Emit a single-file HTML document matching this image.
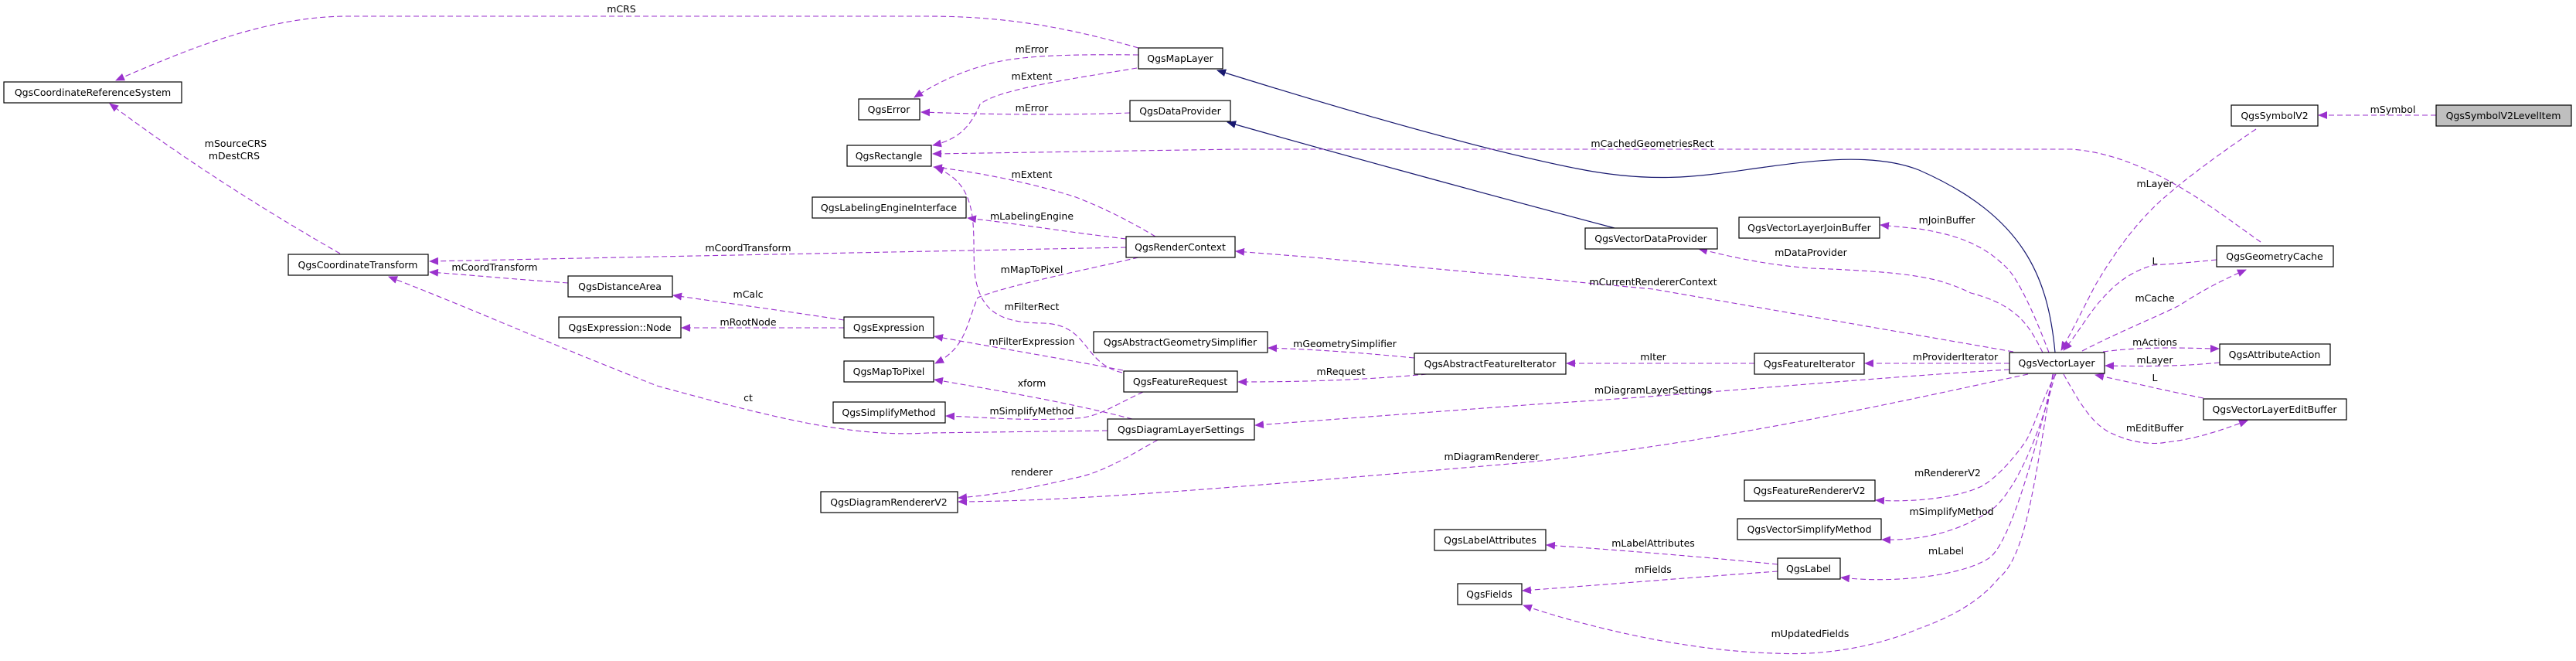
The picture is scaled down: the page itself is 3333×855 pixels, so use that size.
<!DOCTYPE html>
<html><head><meta charset="utf-8">
<style>
html,body{margin:0;padding:0;background:#fff;}
svg{display:block;}
text{font-family:"DejaVu Sans","Liberation Sans",sans-serif;font-size:12.5px;fill:#000;}
.n{fill:#fff;stroke:#000;stroke-width:1.2;}
.e{fill:none;stroke:#9a32cd;stroke-width:1.1;stroke-dasharray:7,4;marker-end:url(#ap);}
.i{fill:none;stroke:#191970;stroke-width:1.2;marker-end:url(#an);}
</style></head><body>
<svg width="3333" height="855" viewBox="0 0 3333 855" xmlns="http://www.w3.org/2000/svg">
<defs>
<marker id="ap" markerWidth="12" markerHeight="10" refX="11" refY="5" orient="auto" markerUnits="userSpaceOnUse"><path d="M0,0 L12,5 L0,10 z" fill="#9a32cd"/></marker>
<marker id="an" markerWidth="12" markerHeight="10" refX="11" refY="5" orient="auto" markerUnits="userSpaceOnUse"><path d="M0,0 L12,5 L0,10 z" fill="#191970"/></marker>
</defs>

<!-- edges -->
<path class="e" d="M1473,62 C1380,35 1300,21 1200,21 L450,21 C350,21 250,60 150,104"/>
<path class="e" d="M1473,71 C1380,70 1330,72 1290,80 C1250,90 1215,105 1183,126"/>
<path class="e" d="M1471,88 C1400,100 1290,115 1268,135 C1255,165 1240,180 1207,188"/>
<path class="e" d="M1462,146 C1350,150 1250,147 1192,145"/>
<path class="i" d="M2089,295 C1900,245 1700,190 1588,158"/>
<path class="i" d="M2659,456 C2650,360 2620,280 2483,220 C2420,195 2330,210 2270,218 C2200,228 2140,238 2040,218 C1900,190 1700,130 1575,91"/>
<path class="e" d="M2925,313 C2870,275 2780,200 2680,193 L1600,193 L1207,199"/>
<path class="e" d="M1495,306 C1460,285 1430,270 1392,255 C1330,235 1260,222 1208,216"/>
<path class="e" d="M1457,309 C1380,300 1320,290 1252,282"/>
<path class="e" d="M1457,320 L850,332 L556,338"/>
<path class="e" d="M735,366 C650,360 600,355 556,352"/>
<path class="e" d="M440,328 C330,265 230,200 142,134"/>
<path class="e" d="M1433,557 L1200,560 C1100,566 1000,540 850,499 C700,440 600,395 503,358"/>
<path class="e" d="M1473,333 C1400,350 1300,370 1265,385 C1250,420 1250,450 1210,470"/>
<path class="e" d="M1452,482 C1400,470 1410,420 1350,418 C1290,418 1270,400 1262,360 C1255,310 1275,240 1210,217"/>
<path class="e" d="M1092,414 C1000,400 940,392 871,382"/>
<path class="e" d="M1092,424 L882,424"/>
<path class="e" d="M1453,479 C1380,465 1280,448 1209,435"/>
<path class="e" d="M1465,542 C1380,520 1290,505 1209,491"/>
<path class="e" d="M1479,507 C1440,525 1420,540 1392,541 C1330,545 1280,540 1224,538"/>
<path class="e" d="M1498,569 C1460,590 1430,610 1392,618 C1330,632 1290,640 1240,644"/>
<path class="e" d="M2624,484 C2500,510 2200,580 1930,602 C1600,630 1400,648 1240,649"/>
<path class="e" d="M2600,478 C2400,490 2200,510 2000,522 L1624,550"/>
<path class="e" d="M2605,455 L2139,374 L1700,333 L1599,325"/>
<path class="e" d="M2643,456 C2625,420 2610,395 2550,379 C2510,360 2480,352 2343,347 C2280,342 2240,332 2198,322"/>
<path class="e" d="M2651,456 C2630,400 2610,360 2597,347 C2570,320 2540,305 2483,296 L2433,291"/>
<path class="e" d="M2600,470 L2413,470"/>
<path class="e" d="M2270,470 L2027,470"/>
<path class="e" d="M1830,463 C1760,456 1700,452 1641,450"/>
<path class="e" d="M1846,484 C1760,492 1680,494 1602,494"/>
<path class="e" d="M2660,484 C2640,520 2630,560 2618,575 C2600,600 2580,620 2564,629 C2530,645 2470,650 2427,647"/>
<path class="e" d="M2659,484 C2640,560 2610,630 2581,656 C2550,680 2500,700 2435,698"/>
<path class="e" d="M2657,484 C2630,600 2600,700 2575,721 C2540,745 2450,755 2382,747"/>
<path class="e" d="M2656,484 C2630,640 2620,720 2586,748 C2560,780 2520,800 2483,813 C2420,840 2350,848 2296,845 C2180,842 2050,810 1971,783"/>
<path class="e" d="M2300,730 C2200,720 2100,712 2001,705"/>
<path class="e" d="M2300,739 C2200,746 2080,756 1970,764"/>
<path class="e" d="M2919,167 C2870,200 2830,230 2808,249 C2770,280 2740,320 2711,369 C2695,400 2680,430 2667,453"/>
<path class="e" d="M2868,336 C2830,340 2800,342 2786,343 C2760,350 2740,365 2727,379 C2705,400 2690,430 2670,453"/>
<path class="e" d="M2694,454 C2740,430 2790,410 2820,395 C2850,375 2880,360 2906,349"/>
<path class="e" d="M2721,455 C2760,450 2790,450 2808,450 C2840,450 2855,451 2871,451"/>
<path class="e" d="M2872,469 C2820,474 2780,474 2724,473"/>
<path class="e" d="M2851,515 C2800,505 2760,495 2711,485"/>
<path class="e" d="M2670,484 C2690,520 2705,545 2727,558 C2760,575 2790,575 2803,572 C2840,568 2870,558 2908,544"/>
<path class="e" d="M3152,149 L3000,149"/>

<!-- edge labels -->
<g text-anchor="middle">
<text x="804" y="16">mCRS</text>
<text x="305" y="190">mSourceCRS</text>
<text x="303" y="206">mDestCRS</text>
<text x="640" y="350">mCoordTransform</text>
<text x="1335" y="68">mError</text>
<text x="1335" y="103">mExtent</text>
<text x="1335" y="144">mError</text>
<text x="1335" y="230">mExtent</text>
<text x="1335" y="284">mLabelingEngine</text>
<text x="968" y="325">mCoordTransform</text>
<text x="1335" y="353">mMapToPixel</text>
<text x="968" y="385">mCalc</text>
<text x="1335" y="401">mFilterRect</text>
<text x="968" y="421">mRootNode</text>
<text x="1335" y="446">mFilterExpression</text>
<text x="1335" y="500">xform</text>
<text x="1335" y="536">mSimplifyMethod</text>
<text x="968" y="519">ct</text>
<text x="1335" y="615">renderer</text>
<text x="1740" y="449">mGeometrySimplifier</text>
<text x="2138" y="190">mCachedGeometriesRect</text>
<text x="2343" y="331">mDataProvider</text>
<text x="2519" y="289">mJoinBuffer</text>
<text x="2139" y="369">mCurrentRendererContext</text>
<text x="2139" y="466">mIter</text>
<text x="2530" y="466">mProviderIterator</text>
<text x="1735" y="485">mRequest</text>
<text x="2139" y="509">mDiagramLayerSettings</text>
<text x="1930" y="595">mDiagramRenderer</text>
<text x="2520" y="616">mRendererV2</text>
<text x="2525" y="666">mSimplifyMethod</text>
<text x="2139" y="707">mLabelAttributes</text>
<text x="2139" y="741">mFields</text>
<text x="2518" y="717">mLabel</text>
<text x="2342" y="824">mUpdatedFields</text>
<text x="3096" y="146">mSymbol</text>
<text x="2788" y="242">mLayer</text>
<text x="2788" y="342">L</text>
<text x="2788" y="390">mCache</text>
<text x="2788" y="447">mActions</text>
<text x="2788" y="470">mLayer</text>
<text x="2788" y="493">L</text>
<text x="2788" y="558">mEditBuffer</text>
</g>

<!-- nodes -->
<g>
<rect class="n" x="5" y="106" width="230" height="27"/>
<rect class="n" x="373" y="329" width="181" height="27"/>
<rect class="n" x="735" y="357" width="135" height="27"/>
<rect class="n" x="723" y="410" width="158" height="27"/>
<rect class="n" x="1473" y="62" width="109" height="27"/>
<rect class="n" x="1111" y="128" width="79" height="27"/>
<rect class="n" x="1462" y="130" width="130" height="27"/>
<rect class="n" x="1096" y="188" width="109" height="27"/>
<rect class="n" x="1051" y="255" width="199" height="27"/>
<rect class="n" x="1457" y="306" width="141" height="27"/>
<rect class="n" x="1092" y="410" width="116" height="27"/>
<rect class="n" x="1415" y="429" width="225" height="27"/>
<rect class="n" x="1092" y="467" width="116" height="27"/>
<rect class="n" x="1454" y="480" width="147" height="27"/>
<rect class="n" x="1078" y="520" width="145" height="27"/>
<rect class="n" x="1433" y="542" width="190" height="27"/>
<rect class="n" x="1062" y="636" width="177" height="27"/>
<rect class="n" x="2051" y="295" width="171" height="27"/>
<rect class="n" x="2250" y="281" width="182" height="27"/>
<rect class="n" x="1830" y="457" width="196" height="27"/>
<rect class="n" x="2270" y="457" width="142" height="27"/>
<rect class="n" x="2257" y="621" width="169" height="27"/>
<rect class="n" x="2248" y="671" width="186" height="27"/>
<rect class="n" x="1856" y="685" width="144" height="27"/>
<rect class="n" x="2300" y="722" width="81" height="27"/>
<rect class="n" x="1886" y="755" width="83" height="27"/>
<rect class="n" x="2887" y="136" width="112" height="27"/>
<rect class="n" x="3152" y="136" width="175" height="27" style="fill:#bfbfbf"/>
<rect class="n" x="2868" y="318" width="151" height="27"/>
<rect class="n" x="2600" y="456" width="123" height="27"/>
<rect class="n" x="2872" y="445" width="143" height="27"/>
<rect class="n" x="2851" y="516" width="185" height="27"/>
</g>
<g text-anchor="middle">
<text x="120" y="124">QgsCoordinateReferenceSystem</text>
<text x="463" y="347">QgsCoordinateTransform</text>
<text x="802" y="375">QgsDistanceArea</text>
<text x="802" y="428">QgsExpression::Node</text>
<text x="1527" y="80">QgsMapLayer</text>
<text x="1150" y="146">QgsError</text>
<text x="1527" y="148">QgsDataProvider</text>
<text x="1150" y="206">QgsRectangle</text>
<text x="1150" y="273">QgsLabelingEngineInterface</text>
<text x="1527" y="324">QgsRenderContext</text>
<text x="1150" y="428">QgsExpression</text>
<text x="1527" y="447">QgsAbstractGeometrySimplifier</text>
<text x="1150" y="485">QgsMapToPixel</text>
<text x="1527" y="498">QgsFeatureRequest</text>
<text x="1150" y="538">QgsSimplifyMethod</text>
<text x="1528" y="560">QgsDiagramLayerSettings</text>
<text x="1150" y="654">QgsDiagramRendererV2</text>
<text x="2136" y="313">QgsVectorDataProvider</text>
<text x="2341" y="299">QgsVectorLayerJoinBuffer</text>
<text x="1928" y="475">QgsAbstractFeatureIterator</text>
<text x="2341" y="475">QgsFeatureIterator</text>
<text x="2341" y="639">QgsFeatureRendererV2</text>
<text x="2341" y="689">QgsVectorSimplifyMethod</text>
<text x="1928" y="703">QgsLabelAttributes</text>
<text x="2340" y="740">QgsLabel</text>
<text x="1927" y="773">QgsFields</text>
<text x="2943" y="154">QgsSymbolV2</text>
<text x="3239" y="154">QgsSymbolV2LevelItem</text>
<text x="2943" y="336">QgsGeometryCache</text>
<text x="2661" y="474">QgsVectorLayer</text>
<text x="2943" y="463">QgsAttributeAction</text>
<text x="2943" y="534">QgsVectorLayerEditBuffer</text>
</g>
</svg>
</body></html>
